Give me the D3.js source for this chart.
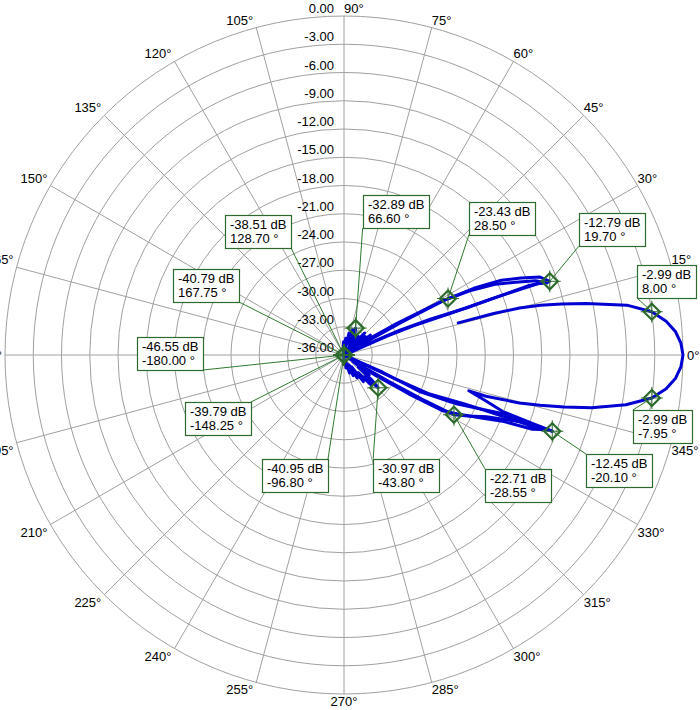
<!DOCTYPE html>
<html>
<head>
<meta charset="utf-8">
<script src="https://cdn.jsdelivr.net/npm/d3@7"></script>
<style>
  html, body { margin: 0; padding: 0; background: #ffffff; }
  svg { display: block; font-family: "Liberation Sans", Arial, sans-serif; }
</style>
</head>
<body>
<svg id="chart" width="700" height="710"></svg>
<script>
// ---------------- DATA ----------------
const radialTickValues = [0, -3, -6, -9, -12, -15, -18, -21, -24, -27, -30, -33, -36];
const angleTickValues = [0, 15, 30, 45, 60, 75, 90, 105, 120, 135, 150, 165, 180, 195, 210, 225, 240, 255, 270, 285, 300, 315, 330, 345];

// main lobe sweep (angle deg, level dB), starting at the lower first side lobe peak
const mainLobeDeg = [-20.1, -20.0, -19.6, -17.9, -16.0, -16.2, -15.3, -14.4, -13.3, -12.0, -10.0, -7.95, -6.0, -4.0, -2.0, 0.0, 2.0, 4.0, 6.0, 8.0, 10.0, 12.0, 13.2, 14.2, 15.0, 15.5, 15.7];
const mainLobeDb  = [-12.45, -14.5, -18.1, -20.2, -22.2, -20.3, -16.7, -14.5, -12.0, -9.1, -5.6, -2.99, -1.6, -0.7, -0.2, 0.0, -0.2, -0.7, -1.6, -2.99, -5.5, -9.7, -12.3, -14.5, -16.7, -19.5, -23.4];

// upper side lobes + back region, first pass
const upperSideDeg = [23, 24.5, 24, 22.5, 21.0, 20.6, 19.7, 21.7, 23.5, 25.4, 27.2, 28.5, 29.7, 30.5, 31.5, 33, 35, 37, 39, 41, 44, 47, 50, 53, 56, 59, 62, 64, 66.6, 68, 71, 74, 77, 80, 84, 88, 92, 96, 100, 180];
const upperSideDb  = [-36, -32, -29.5, -26, -22, -15, -12.79, -13.6, -15.5, -17.5, -20.5, -23.43, -29, -33, -36, -33, -35, -32.5, -35.5, -33, -34.5, -32.8, -35, -33.5, -35.5, -33.8, -34.6, -33.3, -32.89, -34, -33.2, -34.8, -33.6, -35.2, -34.2, -35.3, -34.6, -35.6, -36, -36];

// upper side lobes, second pass
const upperSide2Deg = [22, 23.5, 22.8, 21.4, 20.8, 20.2, 19.5, 21.2, 23.0, 25.0, 27.0, 28.8, 31, 33, 35];
const upperSide2Db  = [-36, -31, -28, -24, -19, -14, -13.1, -14.2, -16.2, -18.2, -21, -24.2, -29.5, -33, -36];

// lower side lobes + back region, first pass
const lowerSideDeg = [-21, -24, -25.8, -23.5, -20.3, -20.2, -20.1, -20.75, -23.4, -26.2, -28.55, -29.5, -30.5, -32, -34, -36, -38, -40, -42, -43.8, -45.5, -48, -51, -54, -57, -60, -63, -66, -70, -73, -77, -81, -86, -90, -96.8, -180];
const lowerSideDb  = [-36, -31.5, -27, -23, -18, -15, -12.45, -16, -19.5, -21.3, -22.71, -26.5, -30.5, -34, -33, -34.8, -32.6, -34, -32, -30.97, -32.8, -31.8, -33.6, -32.5, -34.5, -33.2, -34.8, -33.6, -35, -34, -35.2, -34.6, -35.5, -35, -36, -36];

// lower side lobes, second pass
const lowerSide2Deg = [-23, -25, -24.5, -22, -21, -20.6, -21.5, -22.6, -25, -27.5, -29.5, -31, -33, -36];
const lowerSide2Db  = [-36, -30, -26, -22, -17, -13.5, -14.5, -17.6, -20.3, -22.5, -24, -28, -32, -36];

// marker readouts
const markerDeg = [8.00, 19.70, 28.50, 66.60, 128.70, 167.75, -180.00, -148.25, -96.80, -43.80, -28.55, -20.10, -7.95];
const markerDb  = [-2.99, -12.79, -23.43, -32.89, -38.51, -40.79, -46.55, -39.79, -40.95, -30.97, -22.71, -12.45, -2.99];

// ---------------- LAYOUT ----------------
// callout box placement relative to its marker: [dx, dy, corner]
const calloutLayout = [
  [-15, -14, "bl"], [29, -35, "bl"], [21, -64, "bl"], [7, -100, "bl"],
  [-53, -107, "br"], [-105, -53, "br"], [-141, 15, "br"], [-93, 47, "tr"],
  [-16, 104, "tr"], [-5, 71, "tl"], [31, 54, "tl"], [34, 23, "tl"], [-19, 12, "tl"]
];

const W = 700, H = 710;
const cx = 344, cy = 355, R = 339;
const gridColor = "#a0a0a0";
const traceColor = "#0000d2";
const green = "#2d6b2d";
const leaderGreen = "#2f7a2f";

const svg = d3.select("#chart");
const rScale = d3.scaleLinear().domain([-36, 0]).range([0, R]).clamp(true);
const toRad = d => d * Math.PI / 180;
const pt = (deg, db) => {
  const r = rScale(db);
  return [cx + r * Math.cos(toRad(deg)), cy - r * Math.sin(toRad(deg))];
};
const fmt = v => (+v).toFixed(2);

const g = svg.append("g");

// rings
g.selectAll("circle.ring")
  .data(radialTickValues.filter(v => v > -36))
  .enter().append("circle")
  .attr("cx", cx).attr("cy", cy)
  .attr("r", d => rScale(d))
  .attr("fill", "none").attr("stroke", gridColor).attr("stroke-width", 1);

// spokes
g.selectAll("line.spoke")
  .data(angleTickValues)
  .enter().append("line")
  .attr("x1", cx).attr("y1", cy)
  .attr("x2", d => pt(d, 0)[0]).attr("y2", d => pt(d, 0)[1])
  .attr("stroke", gridColor).attr("stroke-width", 1);

// radial labels
g.selectAll("text.rlab")
  .data(radialTickValues)
  .enter().append("text")
  .attr("x", cx - 10)
  .attr("y", d => cy - rScale(d) - 3)
  .attr("text-anchor", "end")
  .attr("font-size", 13)
  .attr("fill", "#000")
  .text(d => fmt(d));

// angle labels
g.selectAll("text.alab")
  .data(angleTickValues)
  .enter().append("text")
  .each(function(d) {
    const p = pt(d, 0);
    const c = Math.cos(toRad(d)), s = Math.sin(toRad(d));
    let x, y, anchor;
    if (d === 90) { anchor = "start"; x = p[0]; y = p[1] - 3; }
    else if (d === 270) { anchor = "middle"; x = p[0]; y = p[1] + 12; }
    else if (d === 0) { anchor = "start"; x = p[0] + 4; y = p[1] + 5; }
    else if (d === 180) { anchor = "end"; x = p[0] - 3; y = p[1] + 5; }
    else {
      if (c > 0) { anchor = "start"; x = p[0]; } else { anchor = "end"; x = p[0] - 3; }
      y = s > 0 ? p[1] - 3 : p[1] + 12;
    }
    d3.select(this).attr("x", x).attr("y", y).attr("text-anchor", anchor);
  })
  .attr("font-size", 13)
  .attr("fill", "#000")
  .text(d => d + "°");

// traces
const line = d3.lineRadial()
  .angle(d => toRad(90 - d[0]))
  .radius(d => rScale(d[1]));
const traces = [
  d3.zip(mainLobeDeg, mainLobeDb),
  d3.zip(upperSideDeg, upperSideDb),
  d3.zip(upperSide2Deg, upperSide2Db),
  d3.zip(lowerSideDeg, lowerSideDb),
  d3.zip(lowerSide2Deg, lowerSide2Db)
];
const tg = svg.append("g").attr("transform", `translate(${cx},${cy})`);
tg.selectAll("path.trace")
  .data(traces)
  .enter().append("path")
  .attr("d", line)
  .attr("fill", "none")
  .attr("stroke", traceColor)
  .attr("stroke-width", 3)
  .attr("stroke-linejoin", "round")
  .attr("stroke-linecap", "round");

// callouts
const markers = d3.zip(markerDeg, markerDb, calloutLayout);
const lg = svg.append("g");
const mg = svg.append("g");
const bg = svg.append("g");

markers.forEach(([deg, db, lay]) => {
  const p = pt(deg, db);
  const [dx, dy, corner] = lay;
  const ax = p[0] + dx, ay = p[1] + dy;

  const box = bg.append("g");
  const rect = box.append("rect");
  const t1 = box.append("text").attr("font-size", 13).attr("fill", "#000").text(fmt(db) + " dB");
  const t2 = box.append("text").attr("font-size", 13).attr("fill", "#000").text(fmt(deg) + " °");
  const tw = Math.max(t1.node().getComputedTextLength(), t2.node().getComputedTextLength());
  const bw = Math.round(tw + 10), bh = 33;
  const left = corner[1] === "l" ? ax : ax - bw;
  const top = corner[0] === "t" ? ay : ay - bh;
  rect.attr("x", Math.round(left) + 0.5).attr("y", Math.round(top) + 0.5)
    .attr("width", bw).attr("height", bh)
    .attr("fill", "#fff").attr("stroke", green).attr("stroke-width", 1.2);
  t1.attr("x", Math.round(left) + 5).attr("y", Math.round(top) + 14);
  t2.attr("x", Math.round(left) + 5).attr("y", Math.round(top) + 28);

  lg.append("line")
    .attr("x1", ax).attr("y1", ay).attr("x2", p[0]).attr("y2", p[1])
    .attr("stroke", leaderGreen).attr("stroke-width", 1);

  const s = 8, c = 11;
  mg.append("path")
    .attr("d", `M${p[0]},${p[1]-s}L${p[0]+s},${p[1]}L${p[0]},${p[1]+s}L${p[0]-s},${p[1]}Z`)
    .attr("fill", "none").attr("stroke", green).attr("stroke-width", 2.2);
  mg.append("path")
    .attr("d", `M${p[0]-c},${p[1]}H${p[0]+c}M${p[0]},${p[1]-c}V${p[1]+c}`)
    .attr("fill", "none").attr("stroke", green).attr("stroke-width", 1);
});
</script>
</body>
</html>
